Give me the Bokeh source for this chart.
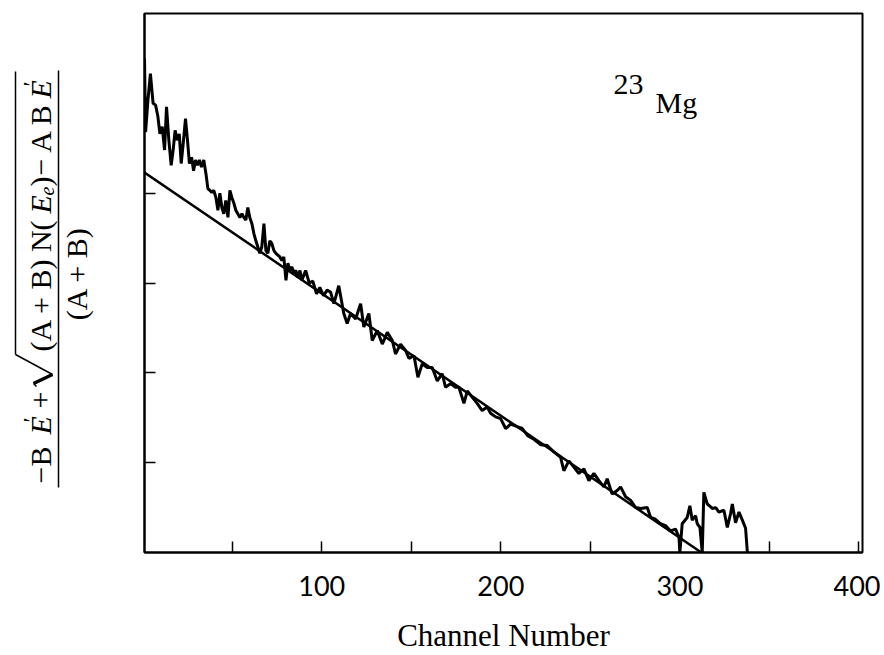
import math
from bokeh.plotting import figure
from bokeh.layouts import row
from bokeh.models import Range1d, FixedTicker, Label, Arrow
from bokeh.embed import file_html
from bokeh.resources import INLINE

# ---- data ----
channel = [1.0, 1.6, 2.9, 4.3, 5.8, 7.2, 8.5, 9.6, 10.9, 12.2, 13.3, 14.6, 15.9, 17.0, 18.1,
           19.2, 20.4, 21.5, 22.6, 23.9, 25.0, 26.1, 27.3, 28.4, 29.5, 30.6, 31.7, 32.8, 34.1,
           35.3, 36.4, 37.5, 38.6, 39.7, 40.9, 42.0, 43.1, 44.2, 45.3, 46.4, 47.6, 48.7, 49.8,
           50.9, 52.0, 53.1, 54.3, 55.4, 56.5, 57.6, 58.7, 59.8, 61.0, 62.1, 63.2, 64.3, 65.4,
           66.5, 67.7, 68.8, 69.9, 71.0, 72.1, 73.3, 74.4, 75.5, 76.6, 77.7, 78.8, 80.0, 81.1,
           82.2, 83.3, 84.4, 85.5, 86.7, 87.8, 88.9, 91.0, 93.0, 95.0, 97.1, 98.9, 101.0, 103.0,
           104.9, 106.8, 109.5, 112.3, 114.2, 116.1, 118.9, 121.7, 123.5, 126.3, 128.2, 131.0,
           133.8, 136.6, 139.4, 141.2, 144.0, 146.8, 148.7, 151.5, 153.7, 156.1, 158.9, 161.7,
           164.5, 167.3, 169.1, 171.9, 174.7, 176.6, 179.4, 181.3, 184.0, 186.8, 189.6, 192.4,
           194.3, 197.1, 199.9, 202.7, 205.5, 209.2, 212.0, 215.0, 218.5,
           222.2, 225.9, 229.6, 233.4, 235.2, 238.0, 240.8, 243.6, 246.4, 249.2, 252.0, 254.8,
           257.6, 259.4, 262.2, 265.0, 266.9, 269.7, 272.5, 275.3, 278.1, 281.8, 283.7, 286.4,
           289.2, 292.0, 294.8, 297.6, 299.5, 300.0, 301.3, 304.1, 305.6, 306.9, 308.8, 309.7,
           311.2, 312.5, 313.4, 315.3, 318.1, 320.0, 321.8, 324.6, 326.5, 328.3, 329.3, 331.1,
           333.0, 334.9, 336.7, 337.7]
kurie = [5.50, 4.68, 5.03, 5.33, 5.00, 4.98, 4.85, 4.66, 4.74, 4.48, 4.96, 4.59, 4.31, 4.48, 4.70,
         4.59, 4.66, 4.33, 4.55, 4.83, 4.59, 4.33, 4.40, 4.25, 4.37, 4.31, 4.37, 4.29, 4.37,
         4.22, 4.05, 4.03, 4.01, 4.03, 3.95, 3.81, 4.00, 3.84, 3.77, 3.92, 3.73, 4.03, 3.95,
         3.89, 3.81, 3.77, 3.73, 3.77, 3.73, 3.70, 3.84, 3.73, 3.66, 3.55, 3.47, 3.40, 3.33,
         3.40, 3.66, 3.36, 3.33, 3.47, 3.44, 3.36, 3.33, 3.31, 3.29, 3.25, 3.29, 3.03, 3.22,
         3.14, 3.18, 3.11, 3.14, 3.06, 3.14, 3.03, 3.14, 3.00, 3.02, 2.88, 2.95, 2.86, 2.92,
         2.90, 2.77, 2.97, 2.66, 2.55, 2.66, 2.60, 2.77, 2.51, 2.66, 2.36, 2.47,
         2.32, 2.45, 2.36, 2.21, 2.32, 2.25, 2.16, 2.19, 1.95, 2.10, 2.06, 2.06,
         1.91, 1.99, 1.84, 1.88, 1.84, 1.84, 1.66, 1.80, 1.73, 1.66, 1.58, 1.62,
         1.55, 1.51, 1.49, 1.38, 1.43, 1.40, 1.38, 1.30, 1.26,
         1.20, 1.19, 1.12, 1.06, 0.91, 1.02, 0.95, 0.88, 0.93, 0.80, 0.88, 0.80,
         0.73, 0.82, 0.65, 0.69, 0.73, 0.62, 0.58, 0.50, 0.49, 0.50, 0.39, 0.37,
         0.32, 0.30, 0.24, 0.26, 0.17, 0.00, 0.32, 0.39, 0.52, 0.36, 0.41, 0.32,
         0.28, 0.00, 0.67, 0.54, 0.49, 0.50, 0.45, 0.47, 0.28, 0.43, 0.54, 0.33,
         0.45, 0.36, 0.27, 0.00]
fit_channel = [1.0, 312.0]
fit_value = [4.23, 0.0]

x_ticks = [50, 100, 150, 200, 250, 300, 350, 400]
x_tick_labels = {50: "", 100: "100", 150: "", 200: "200", 250: "", 300: "300", 350: "", 400: "400"}
y_ticks = [1, 2, 3, 4]
y_tick_labels = {1: "", 2: "", 3: "", 4: ""}
x_title = "Channel Number"
isotope_mass = "23"
isotope_symbol = "Mg"

SERIF = "Liberation Serif"
H = 655
LEFT_W = 134

# ---------- main plot ----------
p = figure(width=746, height=H, x_range=Range1d(1, 402), y_range=Range1d(0, 6),
           output_backend="svg", toolbar_location=None,
           min_border_left=10, min_border_right=18, min_border_top=13, min_border_bottom=103,
           background_fill_color="white", border_fill_color="white")
p.xgrid.visible = False
p.ygrid.visible = False
p.outline_line_color = "black"
p.outline_line_width = 2

p.xaxis.ticker = FixedTicker(ticks=x_ticks)
p.xaxis.major_label_overrides = x_tick_labels
p.yaxis.ticker = FixedTicker(ticks=y_ticks)
p.yaxis.major_label_overrides = y_tick_labels
p.yaxis.major_label_text_font_size = "0px"
p.yaxis.major_label_standoff = 0
for ax in (p.xaxis, p.yaxis):
    ax.axis_line_color = "black"
    ax.axis_line_width = 2
    ax.major_tick_in = 11
    ax.major_tick_out = 0
    ax.major_tick_line_color = "black"
    ax.major_tick_line_width = 1.5
    ax.minor_tick_line_color = None
p.xaxis.major_label_text_font = "Lato"
p.xaxis.major_label_text_font_size = "27px"
p.xaxis.major_label_text_color = "black"
p.xaxis.major_label_standoff = 23
p.xaxis.axis_label = x_title
p.xaxis.axis_label_text_font = SERIF
p.xaxis.axis_label_text_font_size = "31px"
p.xaxis.axis_label_text_font_style = "normal"
p.xaxis.axis_label_text_color = "black"
p.xaxis.axis_label_standoff = 19

p.line(channel, kurie, line_color="black", line_width=3)
p.line(fit_channel, fit_value, line_color="black", line_width=2.5)

p.add_layout(Label(x=469, y=459, x_units="screen", y_units="screen", text=isotope_mass,
                   text_font=SERIF, text_font_size="30px", text_color="black"))
p.add_layout(Label(x=511, y=434, x_units="screen", y_units="screen", text=isotope_symbol,
                   text_font=SERIF, text_font_size="30px", text_color="black"))

# ---------- y-axis title panel (formula, rotated) ----------
# frame of this panel is aligned with the main frame: screen y = 552 - page y
q = figure(width=LEFT_W, height=H, x_range=Range1d(0, LEFT_W), y_range=Range1d(0, 1),
           output_backend="svg", toolbar_location=None,
           x_axis_location=None, y_axis_location=None,
           min_border_left=0, min_border_right=0, min_border_top=0, min_border_bottom=0,
           background_fill_color="white", border_fill_color="white")
q.outline_line_color = None
q.xgrid.visible = False
q.ygrid.visible = False

DX = -10  # baseline correction for rotated labels


def lab(text, sx, sy, size, style="normal", align="left"):
    q.add_layout(Label(x=sx + DX, y=sy, x_units="screen", y_units="screen", text=text,
                       angle=math.pi / 2, text_font=SERIF, text_font_size=f"{size}px",
                       text_font_style=style, text_align=align, text_baseline="alphabetic",
                       text_color="black"))


def seg(x0, y0, x1, y1, w=1.5):
    q.add_layout(Arrow(end=None, x_start=x0, y_start=y0, x_end=x1, y_end=y1,
                       start_units="screen", end_units="screen",
                       line_color="black", line_width=w))


lab("\u2212B", 50, 69, 30)
lab("E", 50, 118, 30, "italic")
lab("\u2032", 40, 130, 24)
lab("+", 50, 144, 30)
seg(36, 166, 33, 169, 1.5)
seg(33, 169, 52, 178, 3.5)
seg(52, 178, 15, 198, 1.5)
seg(15, 198, 15, 481, 1.5)
lab("(A + B) N(", 50, 201, 30)
lab("E", 50, 339, 30, "italic")
lab("e", 56, 357, 20, "italic")
lab(")", 50, 366, 30)
lab("\u2212 A B", 50, 377, 30)
lab("E", 50, 454, 30, "italic")
lab("\u2032", 40, 466, 24)
seg(58, 65, 58, 482, 1.5)
lab("(A + B)", 86, 279, 30, align="center")

layout = row(q, p, spacing=0)
open("out.html", "w").write(file_html(layout, INLINE))
